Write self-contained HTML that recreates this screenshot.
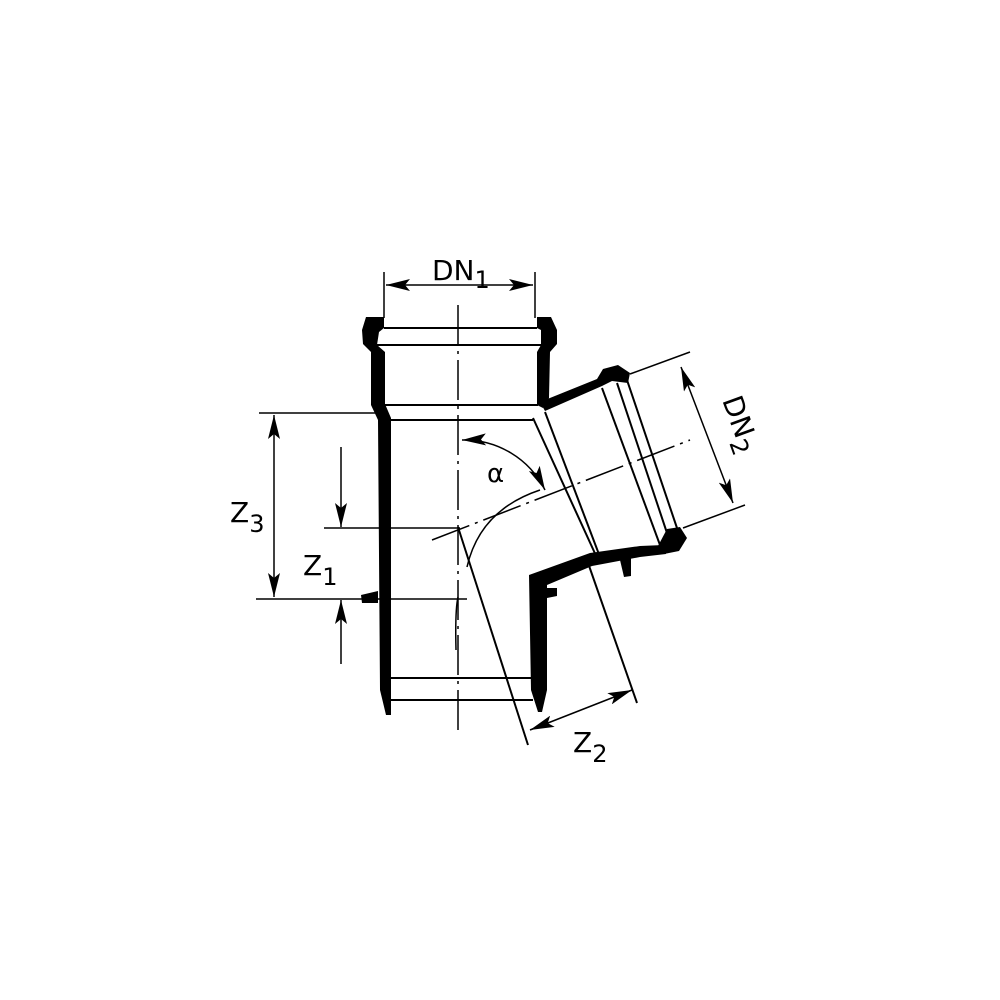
<!DOCTYPE html>
<html><head><style>body{margin:0;background:#fff}svg{display:block}</style></head><body>
<svg width="1000" height="1000" viewBox="0 0 1000 1000" xmlns="http://www.w3.org/2000/svg">
<defs>
<marker id="a" viewBox="0 0 24 12" refX="24" refY="6" markerWidth="24" markerHeight="12" markerUnits="userSpaceOnUse" orient="auto-start-reverse"><path d="M0,0L24,6L0,12L5,6z" fill="#000"/></marker>
</defs>
<g fill="#000" stroke="none">
<path d="M366,317 L384,317 L384,328 L379,332 L377,345 L385,352 L385,404 L391,418 L391,715 L386,715 L380,690 L378,420 L371,405 L371,352 L363,344 L362,330 Z"/>
<path d="M537,317 L551,317 L557,330 L557,344 L550,352 L549,398 L543,408 L537,405 L537,352 L541,345 L541,330 L537,328 Z"/>
<path d="M540,402 L597,379 L603,369 L618,365 L630,373 L628,383 L612,381 L602,386 L545,411 Z"/>
<path d="M658,546 L667,529 L680,527 L687,538 L679,551 L664,554 Z"/>
<path d="M529,575 L590,553 L640,546 L664,545 L666,554 L640,557 L592,566 L547,585 L547,690 L542,712 L538,712 L531,690 Z"/>
<path d="M361,595 L378,591 L378,603 L362,603 Z"/>
<path d="M547,588 L557,588 L557,596 L547,598 Z"/>
<path d="M620,560 L631,557 L631,576 L624,577 Z"/>
</g>
<g stroke="#000" stroke-width="2" fill="none">
<line x1="384" y1="328" x2="537" y2="328"/>
<line x1="377" y1="345" x2="541" y2="345"/>
<line x1="380" y1="405" x2="538" y2="405"/>
<line x1="391" y1="420" x2="533" y2="420"/>
<line x1="391" y1="678" x2="532" y2="678"/>
<line x1="391" y1="700" x2="533" y2="700"/>
<line x1="533" y1="418" x2="598" y2="560"/>
<line x1="545" y1="412" x2="600" y2="557"/>
<line x1="602" y1="388" x2="660" y2="545"/>
<line x1="617" y1="383" x2="668" y2="536"/>
<line x1="627" y1="380" x2="678" y2="531"/>
<line x1="458" y1="527" x2="528" y2="745"/>
<line x1="587" y1="560" x2="637" y2="703"/>
<line x1="384" y1="272" x2="384" y2="318" stroke-width="1.5"/>
<line x1="535" y1="272" x2="535" y2="318" stroke-width="1.5"/>
<line x1="259" y1="413" x2="375" y2="413" stroke-width="1.5"/>
<line x1="256" y1="599" x2="467" y2="599" stroke-width="1.5"/>
<line x1="324" y1="528" x2="460" y2="528" stroke-width="1.5"/>
<line x1="630" y1="374" x2="690" y2="352" stroke-width="1.5"/>
<line x1="683" y1="528" x2="745" y2="505" stroke-width="1.5"/>
<line x1="386" y1="285" x2="533" y2="285" stroke-width="1.5" marker-start="url(#a)" marker-end="url(#a)"/>
<line x1="274" y1="415" x2="274" y2="597" stroke-width="1.5" marker-start="url(#a)" marker-end="url(#a)"/>
<line x1="341" y1="447" x2="341" y2="527" stroke-width="1.5" marker-end="url(#a)"/>
<line x1="341" y1="664" x2="341" y2="600" stroke-width="1.5" marker-end="url(#a)"/>
<line x1="681" y1="367" x2="733" y2="503" stroke-width="1.5" marker-start="url(#a)" marker-end="url(#a)"/>
<line x1="530" y1="730" x2="632" y2="690" stroke-width="1.5" marker-start="url(#a)" marker-end="url(#a)"/>
<path d="M462,440 A90,90 0 0 1 545,490" stroke-width="1.5" marker-start="url(#a)" marker-end="url(#a)"/>
<path d="M467,567 Q480,510 540,490" stroke-width="1.5"/>
<path d="M458,597 Q455,610 456,650" stroke-width="1.5"/>
<line x1="458" y1="305" x2="458" y2="730" stroke-width="1.5" stroke-dasharray="40,6,3,6"/>
<line x1="432" y1="540" x2="690" y2="440" stroke-width="1.5" stroke-dasharray="40,6,3,6"/>
</g>
<g font-family="'DejaVu Sans', 'Liberation Sans', sans-serif" font-size="28" fill="#000">
<text x="432" y="280">DN<tspan font-size="24" dy="8">1</tspan></text>
<text x="230" y="522">Z<tspan font-size="24" dy="10">3</tspan></text>
<text x="303" y="575">Z<tspan font-size="24" dy="10">1</tspan></text>
<text x="487" y="482" font-size="26">α</text>
<text transform="translate(722,400) rotate(70)">DN<tspan font-size="24" dy="8">2</tspan></text>
<text x="573" y="752">Z<tspan font-size="24" dy="10">2</tspan></text>
</g>
</svg>
</body></html>
